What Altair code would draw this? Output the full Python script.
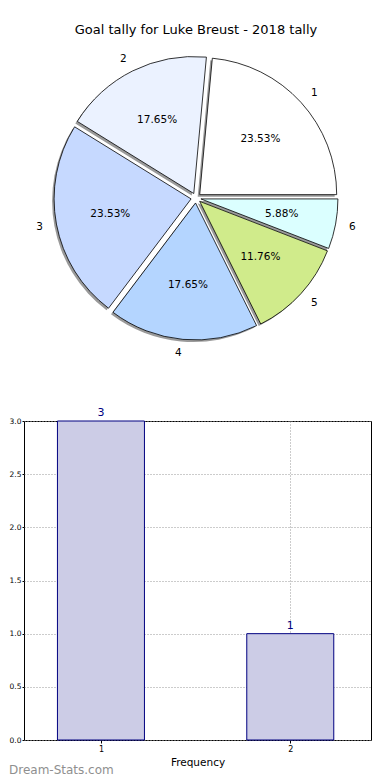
import altair as alt
import pandas as pd

# ---- data ----
goals = ["1", "2", "3", "4", "5", "6"]
tallies = [4, 3, 4, 3, 2, 1]
slice_colors = ["#FFFFFF", "#EBF2FF", "#C6D9FF", "#B4D5FF", "#D0EB8B", "#DBFFFF"]

freq_x = [1, 2]
freq_y = [3, 1]
y_ticks = [0.0, 0.5, 1.0, 1.5, 2.0, 2.5, 3.0]

title_text = "Goal tally for Luke Breust - 2018 tally"

# ---- layout constants ----
W = 347
PIE_H = 380
BAR_H = 319
CX, CY = 172, 190
R = 137
EXPL = 5

pie_df = pd.DataFrame({"goal": goals, "tally": tallies, "gnum": [int(g) for g in goals]})

base = (
    alt.Chart(pie_df)
    .transform_joinaggregate(total="sum(tally)")
    .transform_window(cum="sum(tally)", sort=[alt.SortField("gnum", order="descending")], frame=[None, 0])
    .transform_calculate(
        start="PI/2 + 2*PI*(datum.cum - datum.tally)/datum.total",
        end="PI/2 + 2*PI*datum.cum/datum.total",
    )
    .transform_calculate(mid="(datum.start + datum.end)/2")
    .transform_calculate(
        ox=f"{CX} + {EXPL}*sin(datum.mid)",
        oy=f"{CY} - {EXPL}*cos(datum.mid)",
    )
    .transform_calculate(
        lx=f"datum.ox + {1.1*R}*sin(datum.mid)",
        ly=f"datum.oy - {1.1*R}*cos(datum.mid)",
        px=f"datum.ox + {0.6*R}*sin(datum.mid)",
        py=f"datum.oy - {0.6*R}*cos(datum.mid)",
        pct="format(datum.tally/datum.total*100, '.2f') + '%'",
        side="sin(datum.mid) > 0 ? 'right' : 'left'",
    )
)

shadow = base.mark_arc(radius=R, fill="#9a9a9a", xOffset=-2, yOffset=2).encode(
    theta=alt.Theta("start:Q", scale=None),
    theta2="end:Q",
    x=alt.X("ox:Q", scale=None, axis=None),
    y=alt.Y("oy:Q", scale=None, axis=None),
)

wedges = base.mark_arc(radius=R, stroke="black", strokeWidth=0.8).encode(
    theta=alt.Theta("start:Q", scale=None),
    theta2="end:Q",
    x=alt.X("ox:Q", scale=None, axis=None),
    y=alt.Y("oy:Q", scale=None, axis=None),
    color=alt.Color("goal:N", scale=alt.Scale(domain=goals, range=slice_colors), legend=None),
)

pct_text = base.mark_text(fontSize=10.5, color="black", align="center", baseline="middle").encode(
    x=alt.X("px:Q", scale=None, axis=None),
    y=alt.Y("py:Q", scale=None, axis=None),
    text="pct:N",
)

lab_right = base.transform_filter("datum.side == 'right'").mark_text(
    fontSize=10.5, color="black", align="left", baseline="middle"
).encode(
    x=alt.X("lx:Q", scale=None, axis=None),
    y=alt.Y("ly:Q", scale=None, axis=None),
    text="goal:N",
)
lab_left = base.transform_filter("datum.side == 'left'").mark_text(
    fontSize=10.5, color="black", align="right", baseline="middle"
).encode(
    x=alt.X("lx:Q", scale=None, axis=None),
    y=alt.Y("ly:Q", scale=None, axis=None),
    text="goal:N",
)

title_df = pd.DataFrame({"t": [title_text]})
title_mark = alt.Chart(title_df).mark_text(
    fontSize=13, color="black", align="center", baseline="middle"
).encode(x=alt.value(CX), y=alt.value(22), text="t:N")

pie = alt.layer(shadow, wedges, pct_text, lab_right, lab_left, title_mark).properties(
    width=W, height=PIE_H, view=alt.ViewBackground(stroke=None)
)

# ---- bar chart ----
bar_df = pd.DataFrame({"k": freq_x, "n": freq_y})

xenc = alt.X(
    "k:Q",
    scale=alt.Scale(domain=[0.62, 2.4], nice=False, zero=False),
    axis=alt.Axis(
        values=freq_x, format="d", title="Frequency", grid=True, gridDash=[1, 2], gridColor="#999999",
        domain=False, ticks=True, tickSize=3, tickColor="black", labelFontSize=8, labelPadding=2,
        titleFontSize=10.5, titleFontWeight="normal", titlePadding=4, labelColor="black", titleColor="black",
    ),
)
yenc = alt.Y(
    "n:Q",
    scale=alt.Scale(domain=[0, 3], nice=False),
    axis=alt.Axis(
        values=y_ticks, format=".1f", title=None, grid=True, gridDash=[1, 2], gridColor="#999999",
        domain=False, ticks=True, tickSize=2, tickColor="black", labelFontSize=7.5, labelPadding=1,
        labelColor="black",
    ),
)

bars = alt.Chart(bar_df).mark_bar(size=87, fill="#CCCCE6", stroke="#000080", strokeWidth=1).encode(
    x=xenc, y=yenc
)
bar_labels = alt.Chart(bar_df).mark_text(
    fontSize=11, color="#000080", baseline="bottom", dy=-3
).encode(x="k:Q", y="n:Q", text=alt.Text("n:Q", format="d"))

wm_df = pd.DataFrame({"w": ["Dream-Stats.com"]})
watermark = alt.Chart(wm_df).mark_text(
    fontSize=12, color="#8f8f8f", align="left", baseline="middle"
).encode(x=alt.value(-15), y=alt.value(349), text="w:N")

bar = alt.layer(bars, bar_labels, watermark).properties(
    width=W, height=BAR_H, view=alt.ViewBackground(stroke="black", strokeWidth=1)
)

chart = (
    alt.vconcat(pie, bar, spacing=33, bounds="flush")
    .properties(padding=0)
    .configure(font="DejaVu Sans")
)

chart.save("out.html", embed_options={"renderer": "svg", "actions": False})
